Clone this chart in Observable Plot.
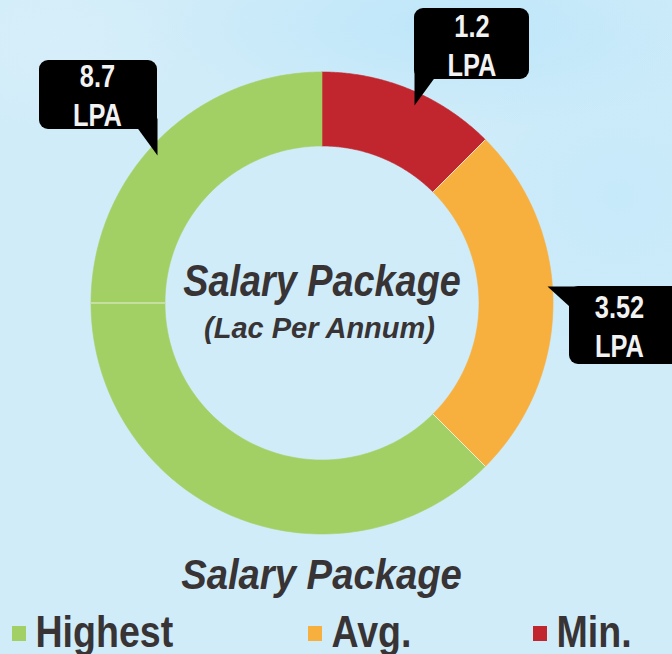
<!DOCTYPE html>
<html>
<head>
<meta charset="utf-8">
<script src="https://cdn.jsdelivr.net/npm/d3@7"></script>
<script src="https://cdn.jsdelivr.net/npm/@observablehq/plot@0.6"></script>
<style>
  html, body { margin: 0; padding: 0; }
  body {
    width: 672px; height: 654px; overflow: hidden;
    background:
      radial-gradient(ellipse 45% 16% at 68% 4%, rgba(188,230,249,0.95), rgba(188,230,249,0) 100%),
      radial-gradient(ellipse 30% 30% at 92% 30%, rgba(196,233,250,0.8), rgba(196,233,250,0) 100%),
      radial-gradient(ellipse 20% 14% at 8% 6%, rgba(216,239,250,0.8), rgba(216,239,250,0) 100%),
      #D1ECF9;
  }
  #chart svg { display: block; }
</style>
</head>
<body>
<div id="chart"></div>
<script>
// ---- data ----
const categories = ["Highest", "Avg.", "Min."];
const values = [8.7, 3.52, 1.2];          // LPA (Lac Per Annum)
const colors = ["#A3D065", "#F7AF3E", "#C1252D"];
const unit = "LPA";
const title = "Salary Package";
const subtitle = "(Lac Per Annum)";
// ring segments clockwise from 12 o'clock, as drawn (shares in eighths of the ring)
const segCategory = ["Min.", "Avg.", "Highest", "Highest"];
const segShare = [1, 2, 3, 2];

// ---- layout ----
const W = 672, H = 654;
const cx = 321.5, cy = 302.5, R = 231, r0 = 157;
const FONT = "'Liberation Sans', Arial, sans-serif";
const INK = "#383435";

const total = d3.sum(segShare);
const pt = (a, rad) => ({x: cx + rad * Math.sin(a), y: cy - rad * Math.cos(a)});

// ring polygons
let acc = 0;
const ring = [];
const seams = [];
segShare.forEach((s, i) => {
  const a0 = acc / total * 2 * Math.PI;
  acc += s;
  const a1 = acc / total * 2 * Math.PI;
  const n = 120;
  for (let k = 0; k <= n; k++) ring.push({seg: i, category: segCategory[i], ...pt(a0 + (a1 - a0) * k / n, R)});
  for (let k = n; k >= 0; k--) ring.push({seg: i, category: segCategory[i], ...pt(a0 + (a1 - a0) * k / n, r0)});
  if (i > 0) {
    const p = pt(a0, r0), q = pt(a0, R);
    seams.push({x1: p.x, y1: p.y, x2: q.x, y2: q.y});
  }
});

// callouts (box, pointer, text) per category
const calloutLayout = {
  "Highest": {box: [39, 60, 157, 129], tail: [[138,118],[157,118],[157,155],[138,129]], tx: 97, ty: 125},
  "Min.":    {box: [414, 8, 529, 79],  tail: [[414,68],[433,68],[433,79],[414,105]],   tx: 471.5, ty: 75},
  "Avg.":    {box: [569, 286, 700, 364], tail: [[547,286],[585,286],[585,306],[569,306]], tx: 619, ty: 356}
};
const callouts = categories.map((c, i) => ({category: c, value: values[i], ...calloutLayout[c]}));
const boxes = callouts.map(d => ({x1: d.box[0], y1: d.box[1], x2: d.box[2], y2: d.box[3]}));
const tails = callouts.flatMap((d, j) => d.tail.map(([x, y]) => ({j, x, y})));

// legend
const legendX = {"Highest": 12, "Avg.": 308, "Min.": 533};
const legend = categories.map(c => ({category: c, x1: legendX[c], x2: legendX[c] + 14, y1: 626, y2: 641, tx: legendX[c] + 23}));

// horizontal condensing of the typeface, keyed by font size of the text mark
const condense = {"44": 0.86, "43": 0.89, "31": 0.82, "45": 0.835, "29": 1};

const chart = Plot.plot({
  width: W, height: H,
  margin: 0,
  x: {domain: [0, W], range: [0, W], axis: null},
  y: {domain: [0, H], range: [0, H], axis: null},
  color: {domain: categories, range: colors},
  style: {background: "transparent", overflow: "visible"},
  marks: [
    Plot.line(ring, {x: "x", y: "y", z: "seg", fill: "category", stroke: "category", strokeWidth: 0.6, curve: "linear"}),
    Plot.link(seams, {x1: "x1", y1: "y1", x2: "x2", y2: "y2", stroke: "#EEF3E8", strokeWidth: 0.9}),
    // center title
    Plot.text([title], {x: [cx], y: [295], text: d => d, fontFamily: FONT, fontSize: 44, fontWeight: "bold", fontStyle: "italic", fill: INK, lineAnchor: "bottom"}),
    Plot.text([subtitle], {x: [319], y: [337], text: d => d, fontFamily: FONT, fontSize: 29, fontWeight: "bold", fontStyle: "italic", fill: INK, lineAnchor: "bottom"}),
    // callouts
    Plot.rect(boxes, {x1: "x1", y1: "y1", x2: "x2", y2: "y2", fill: "black", rx: 9}),
    Plot.line(tails, {x: "x", y: "y", z: "j", fill: "black", stroke: "none"}),
    Plot.text(callouts, {x: "tx", y: "ty", text: d => `${d.value}\n${unit}`, fontFamily: FONT, fontSize: 31, fontWeight: "bold", fill: "#F2F2F2", lineAnchor: "bottom", lineHeight: 1.226}),
    // bottom title
    Plot.text([title], {x: [321], y: [588], text: d => d, fontFamily: FONT, fontSize: 43, fontWeight: "bold", fontStyle: "italic", fill: INK, lineAnchor: "bottom"}),
    // legend
    Plot.rect(legend, {x1: "x1", x2: "x2", y1: "y1", y2: "y2", fill: "category"}),
    Plot.text(legend, {x: "tx", y: 646, text: "category", fontFamily: FONT, fontSize: 45, fontWeight: "bold", fill: INK, textAnchor: "start", lineAnchor: "bottom"})
  ]
});
chart.querySelectorAll("text").forEach(t => {
  const holder = t.closest("[font-size]");
  const fs = holder ? String(parseFloat(holder.getAttribute("font-size"))) : null;
  const k = condense[fs];
  if (!k || k === 1) return;
  const tr = t.getAttribute("transform");
  if (tr) {
    t.setAttribute("transform", tr + ` scale(${k},1)`);
  } else {
    const x = +t.getAttribute("x") || 0, y = +t.getAttribute("y") || 0;
    t.setAttribute("transform", `translate(${x},${y}) scale(${k},1)`);
    t.setAttribute("x", 0); t.setAttribute("y", 0);
  }
});
document.getElementById("chart").append(chart);
</script>
</body>
</html>
